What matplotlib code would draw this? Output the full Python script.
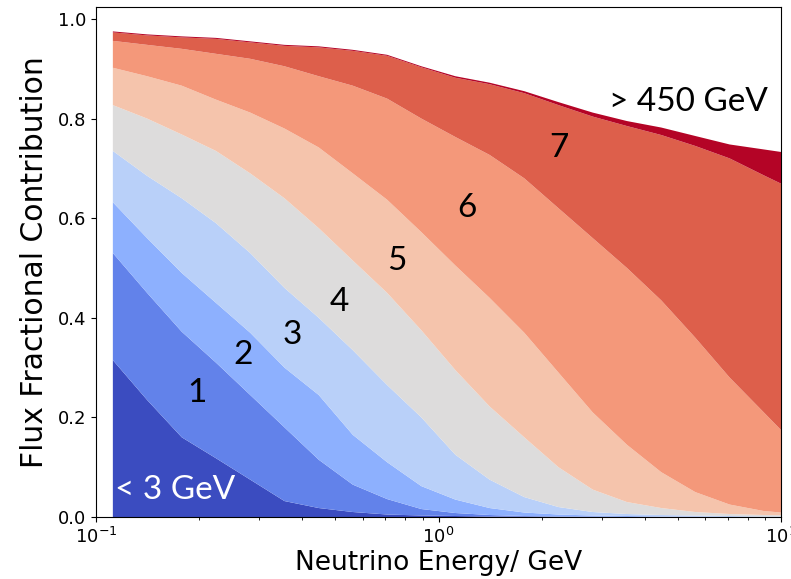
import numpy as np
import matplotlib
matplotlib.use("Agg")
import matplotlib.pyplot as plt

# neutrino energy bins (GeV), log-spaced bin centres
energy = [0.112, 0.141, 0.178, 0.224, 0.282, 0.355, 0.447, 0.562, 0.708, 0.891,
          1.12, 1.41, 1.78, 2.24, 2.82, 3.55, 4.47, 5.62, 7.08, 8.91, 11.2]

# fractional flux contribution of each parent-energy band
below_3gev = [0.315, 0.235, 0.160, 0.118, 0.075, 0.032, 0.018, 0.010, 0.005, 0.003,
              0.002, 0.001, 0.001, 0.000, 0.000, 0.000, 0.000, 0.000, 0.000, 0.000, 0.000]
band_1 = [0.215, 0.215, 0.212, 0.192, 0.170, 0.148, 0.097, 0.055, 0.031, 0.013,
          0.006, 0.003, 0.001, 0.001, 0.001, 0.000, 0.000, 0.000, 0.000, 0.000, 0.000]
band_2 = [0.102, 0.110, 0.118, 0.120, 0.125, 0.120, 0.130, 0.100, 0.074, 0.046,
          0.027, 0.014, 0.007, 0.004, 0.002, 0.002, 0.001, 0.001, 0.000, 0.000, 0.000]
band_3 = [0.103, 0.125, 0.150, 0.160, 0.160, 0.160, 0.155, 0.170, 0.155, 0.138,
          0.090, 0.057, 0.031, 0.015, 0.007, 0.004, 0.003, 0.002, 0.002, 0.001, 0.001]
band_4 = [0.092, 0.115, 0.128, 0.145, 0.160, 0.180, 0.180, 0.180, 0.185, 0.175,
          0.170, 0.147, 0.120, 0.080, 0.045, 0.024, 0.014, 0.007, 0.004, 0.003, 0.002]
band_5 = [0.075, 0.085, 0.098, 0.103, 0.122, 0.140, 0.162, 0.175, 0.187, 0.197,
          0.210, 0.218, 0.210, 0.190, 0.155, 0.115, 0.072, 0.040, 0.019, 0.008, 0.003]
band_6 = [0.054, 0.063, 0.074, 0.092, 0.108, 0.125, 0.143, 0.176, 0.203, 0.228,
          0.258, 0.287, 0.310, 0.330, 0.350, 0.355, 0.345, 0.310, 0.255, 0.198, 0.134]
band_7 = [0.017, 0.019, 0.023, 0.030, 0.033, 0.041, 0.058, 0.070, 0.086, 0.103,
          0.119, 0.142, 0.171, 0.207, 0.244, 0.285, 0.332, 0.385, 0.440, 0.476, 0.513]
above_450gev = [0.002, 0.002, 0.002, 0.002, 0.002, 0.002, 0.002, 0.002, 0.002, 0.002,
                0.003, 0.003, 0.004, 0.006, 0.008, 0.010, 0.015, 0.020, 0.028, 0.052, 0.075]

bands = [below_3gev, band_1, band_2, band_3, band_4, band_5, band_6, band_7, above_450gev]
colors = plt.cm.coolwarm(np.linspace(0, 1, len(bands)))

fig = plt.figure(figsize=(7.91, 5.79), dpi=100)
ax = fig.add_axes([96 / 791, 62 / 579, 685 / 791, 510 / 579])

ax.stackplot(energy, *bands, colors=colors, linewidth=0)

ax.set_xscale("log")
ax.set_xlim(0.1, 10)
ax.set_ylim(0, 1.024)
ax.set_yticks([0.0, 0.2, 0.4, 0.6, 0.8, 1.0])
ax.tick_params(labelsize=13)
ax.set_xlabel("Neutrino Energy/ GeV", fontsize=19, labelpad=2)
ax.set_ylabel("Flux Fractional Contribution", fontsize=21.5, labelpad=6)

# band labels
lab = dict(fontsize=24, family="Lato", va="center", ha="center")
ax.text(0.1136, 0.054, "< 3 GeV", color="white", **{**lab, "ha": "left"})
ax.text(0.197, 0.249, "1", **lab)
ax.text(0.268, 0.325, "2", **lab)
ax.text(0.375, 0.365, "3", **lab)
ax.text(0.514, 0.432, "4", **lab)
ax.text(0.755, 0.514, "5", **lab)
ax.text(1.207, 0.620, "6", **lab)
ax.text(2.253, 0.741, "7", **lab)
ax.text(5.36, 0.833, "> 450 GeV", **lab)

fig.savefig("out.png", dpi=100)
